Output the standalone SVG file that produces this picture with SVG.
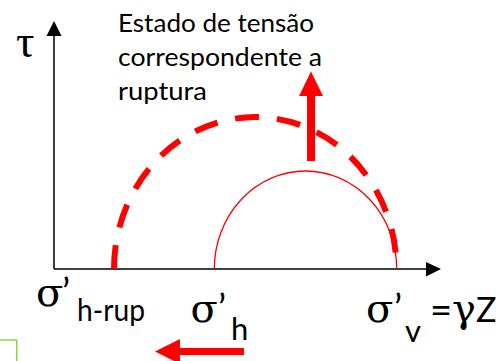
<svg xmlns="http://www.w3.org/2000/svg" width="503" height="361" viewBox="0 0 503 361">
  <style>
    .axis { stroke: #000; stroke-width: 1.5; fill: none; }
    .head { fill: #000; }
    .red { fill: #ff0000; }
    .txt { font-family: Lato, "Open Sans", "Liberation Sans", sans-serif; fill: #000; }
    .greek { font-family: "DejaVu Serif", "Liberation Serif", serif; fill: #000; }
    .tau { font-family: "Liberation Serif", "DejaVu Serif", serif; fill: #000; }
  </style>
  <rect width="503" height="361" fill="#fff"/>
  <g id="connectors">
    <line class="axis" x1="54" y1="269" x2="54" y2="35"/>
    <polygon class="head" points="54,21 46.5,36 61.5,36"/>
    <line class="axis" x1="54" y1="269" x2="427" y2="269"/>
    <polygon class="head" points="441,269 426,262 426,276.5"/>
    <path id="circle-rupture" d="M114,269 A141.25,152 0 0 1 396.5,269" fill="none" stroke="#ff0000" stroke-width="6" stroke-dasharray="24 18"/>
    <path id="circle-initial" d="M214.3,269 A91.2,98 0 0 1 396.7,269" fill="none" stroke="#ff0000" stroke-width="1.3"/>
    <g id="arrow-up">
      <rect class="red" x="307" y="95" width="8" height="66"/>
      <polygon class="red" points="311,71.5 299,96 323,96"/>
    </g>
    <g id="arrow-left">
      <rect class="red" x="179" y="348" width="65" height="7"/>
      <polygon class="red" points="155,351.5 180,339 180,364"/>
    </g>
  </g>
  <g id="tau-label">
    <text class="tau" x="16" y="57" font-size="46">τ</text>
  </g>
  <g id="note">
    <text class="txt" font-size="25" x="118" y="31.5" textLength="196" lengthAdjust="spacingAndGlyphs">Estado de tensão</text>
    <text class="txt" font-size="25" x="118" y="65.5" textLength="204" lengthAdjust="spacingAndGlyphs">correspondente a</text>
    <text class="txt" font-size="25" x="118" y="99.5" textLength="89" lengthAdjust="spacingAndGlyphs">ruptura</text>
  </g>
  <g id="label-h-rup">
    <text class="greek" x="36" y="306" font-size="40">σ</text>
    <text class="txt" x="62" y="306" font-size="38">’</text>
    <text class="txt" x="77" y="321" font-size="31" textLength="68" lengthAdjust="spacingAndGlyphs">h-rup</text>
  </g>
  <g id="label-h">
    <text class="greek" x="190.5" y="322" font-size="40">σ</text>
    <text class="txt" x="218" y="322" font-size="38">’</text>
    <text class="txt" x="231" y="340" font-size="31">h</text>
  </g>
  <g id="label-v">
    <text class="greek" x="366" y="322" font-size="40">σ</text>
    <text class="txt" x="394" y="322" font-size="38">’</text>
    <text class="txt" x="405" y="342" font-size="31">v</text>
    <text class="txt" x="430" y="324" font-size="38">=</text>
    <text class="greek" x="452" y="322" font-size="40">γ</text>
    <text class="txt" x="476" y="322" font-size="34">Z</text>
  </g>
  <path id="green-box" d="M0,340 H16.7 V362" fill="none" stroke="#92d050" stroke-width="1.6"/>
</svg>
